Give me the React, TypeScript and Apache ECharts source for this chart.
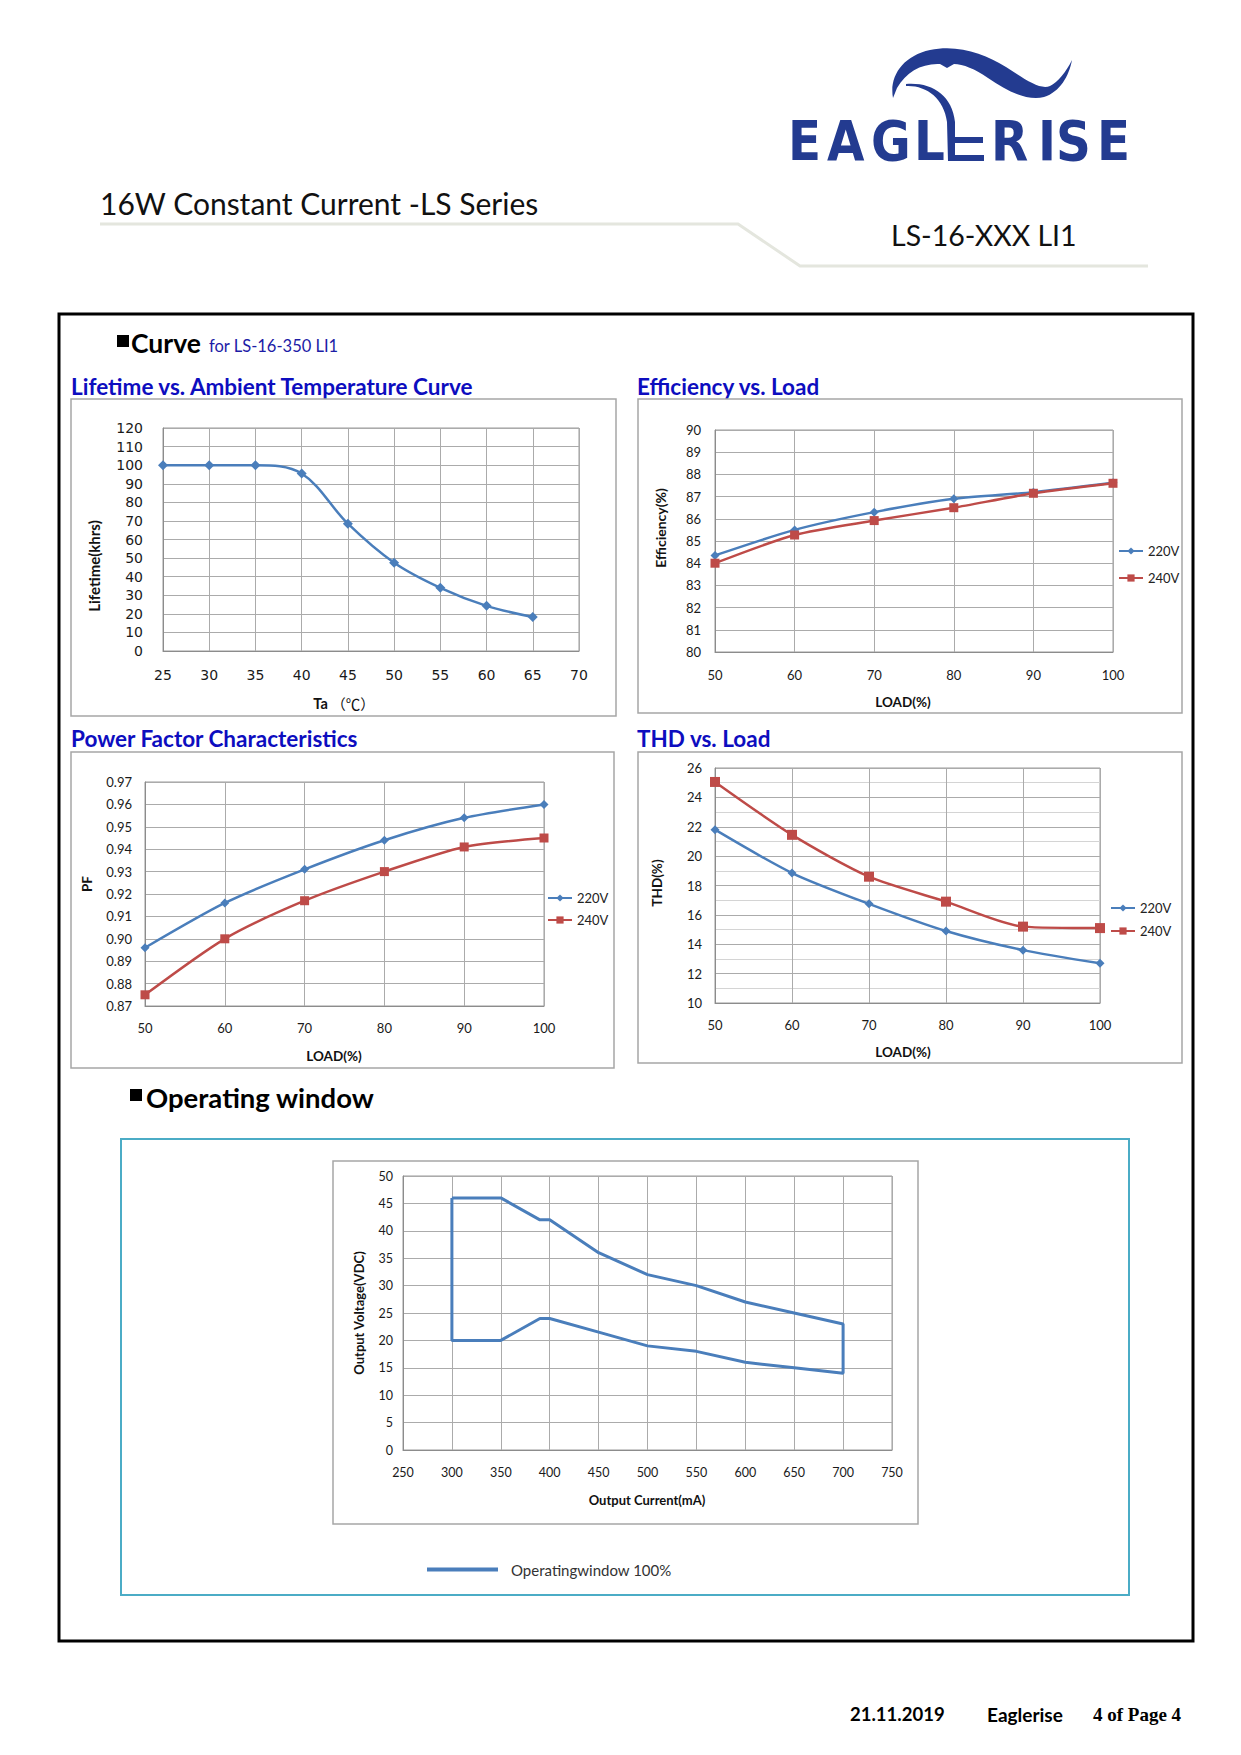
import React, { useEffect, useRef } from "react";
import * as echarts from "echarts";

// ---------- data ----------
const tempX = [25, 30, 35, 40, 45, 50, 55, 60, 65];
const lifetime = [100, 100, 100, 95.5, 68.5, 47.5, 34, 24.3, 18.3];

const loadX = [50, 60, 70, 80, 90, 100];
const eff220 = [84.35, 85.5, 86.3, 86.9, 87.2, 87.62];
const eff240 = [84.0, 85.27, 85.92, 86.5, 87.15, 87.6];

const pf220 = [0.896, 0.916, 0.931, 0.944, 0.954, 0.96];
const pf240 = [0.875, 0.9, 0.917, 0.93, 0.941, 0.945];

const thd220 = [21.8, 18.85, 16.75, 14.9, 13.6, 12.7];
const thd240 = [25.05, 21.45, 18.6, 16.9, 15.2, 15.1];

const owCurrent = [300, 350, 390, 400, 450, 500, 550, 600, 650, 700, 700, 650, 600, 550, 500, 450, 400, 390, 350, 300, 300];
const owVoltage = [46, 46, 42, 42, 36, 32, 30, 27, 25, 23, 14, 15, 16, 18, 19, 21.5, 24, 24, 20, 20, 46];

const seriesNames = ["220V", "240V"];
const owName = "Operatingwindow 100%";

// ---------- styles ----------
const BLUE = "#4a7ebb";
const RED = "#be4b48";
const TITLE_BLUE = "#0d0dbf";
const LOGO_BLUE = "#233b90";
const GRID_C = "#ababab";

const pairs = (xs: number[], ys: number[]) => xs.map((x, i) => [x, ys[i]]);

const EAGLE_D =
  "M 893 98 C 889 76 903 56 930 50 C 958 44 985 54 1006 67 C 1026 80 1040 90 1050 86 C 1058 82 1066 72 1072 60 C 1069 76 1060 92 1044 97 C 1028 101 1008 92 988 78 C 975 69 963 64 954 64 L 947 68 L 940 64 C 922 63 906 72 897 88 Z";
const NECK_D =
  "M 906 86 C 926 85 944 98 947 122 L 948 161 L 955 161 L 955 122 C 952 95 932 82 906 84 Z";

let registered = false;
function registerShapes() {
  if (registered) return;
  registered = true;
  echarts.graphic.registerShape("eagleHead", echarts.graphic.extendPath(EAGLE_D, {}));
  echarts.graphic.registerShape("eagleNeck", echarts.graphic.extendPath(NECK_D, {}));
}

function axisBase(fs: number, fam: string, margin: number) {
  return {
    axisLine: { show: true, lineStyle: { color: "#8c8c8c", width: 1 } },
    axisTick: { show: false },
    splitLine: { show: true, lineStyle: { color: GRID_C, width: 1 } },
    axisLabel: { color: "#1a1a1a", fontSize: fs, fontFamily: fam, margin },
  };
}

function txt(x: number, y: number, text: string, o: any = {}) {
  const { rotation, ...style } = o;
  const el: any = {
    type: "text",
    x,
    y,
    style: {
      text,
      fontFamily: "Lato",
      fontSize: 14,
      fill: "#111",
      align: "left",
      verticalAlign: "middle",
      ...style,
    },
  };
  if (rotation !== undefined) el.rotation = rotation;
  return el;
}

function box(x: number, y: number, w: number, h: number, stroke = "#a6a6a6", lw = 1.5) {
  return { type: "rect", shape: { x, y, width: w, height: h }, style: { fill: "none", stroke, lineWidth: lw } };
}

export default function App() {
  const ref = useRef<HTMLDivElement>(null);

  useEffect(() => {
    document.body.style.margin = "0";
    registerShapes();
    const chart = echarts.init(ref.current!, null, { renderer: "svg" });

    const letters: [string, number][] = [
      ["E", 788],
      ["A", 827],
      ["G", 871],
      ["L", 914],
      ["R", 991],
      ["I", 1038],
      ["S", 1056],
      ["E", 1097],
    ];

    const graphicEls: any[] = [
      // logo
      { type: "eagleHead", x: 0, y: 0, style: { fill: LOGO_BLUE } },
      { type: "eagleNeck", x: 0, y: 0, style: { fill: LOGO_BLUE } },
      { type: "rect", shape: { x: 955, y: 137, width: 28, height: 6 }, style: { fill: LOGO_BLUE } },
      { type: "rect", shape: { x: 955, y: 155, width: 29, height: 6 }, style: { fill: LOGO_BLUE } },
      ...letters.map(([ch, x]) => ({
        type: "text",
        x,
        y: 141,
        scaleX: 0.88,
        style: {
          text: ch,
          fontFamily: "DejaVu Sans",
          fontWeight: "bold",
          fontSize: 55,
          fill: LOGO_BLUE,
          align: "left",
          verticalAlign: "middle",
        },
      })),
      // header
      txt(100, 203, "16W Constant Current -LS Series", { fontSize: 30 }),
      txt(891, 235, "LS-16-XXX LI1", { fontSize: 28.5 }),
      {
        type: "polyline",
        shape: { points: [[100, 224], [738, 224], [800, 266], [1148, 266]] },
        style: { stroke: "#e4e6de", lineWidth: 3, fill: "none" },
      },
      // outer frame
      box(59, 314, 1134, 1327, "#000", 3),
      // curve heading
      { type: "rect", shape: { x: 117, y: 335, width: 12, height: 12 }, style: { fill: "#000" } },
      txt(131, 343, "Curve", { fontSize: 26.5, fontWeight: "bold", fill: "#000" }),
      txt(209, 346, "for LS-16-350 LI1", { fontSize: 16.5, fill: "#1c1ca6" }),
      // chart titles
      txt(71, 386, "Lifetime vs. Ambient Temperature Curve", { fontSize: 22.5, fontWeight: "bold", fill: TITLE_BLUE }),
      txt(637, 386, "Efficiency vs. Load", { fontSize: 22.5, fontWeight: "bold", fill: TITLE_BLUE }),
      txt(71, 738, "Power Factor Characteristics", { fontSize: 22.5, fontWeight: "bold", fill: TITLE_BLUE }),
      txt(637, 738, "THD vs. Load", { fontSize: 22.5, fontWeight: "bold", fill: TITLE_BLUE }),
      // chart boxes
      box(71, 399, 545, 317),
      box(638, 399, 544, 314),
      box(71, 752, 543, 316),
      box(638, 752, 544, 311),
      // axis names chart 1
      txt(94, 566, "Lifetime(khrs)", { fontSize: 15, fontWeight: "bold", align: "center", rotation: Math.PI / 2 }),
      {
        type: "text",
        x: 344,
        y: 703,
        style: {
          text: "{a|Ta} {b|（℃）}",
          align: "center",
          verticalAlign: "middle",
          rich: {
            a: { fontFamily: "Lato", fontWeight: "bold", fontSize: 14.5, fill: "#111" },
            b: { fontFamily: "Noto Sans CJK SC", fontSize: 14.5, fill: "#111" },
          },
        },
      },
      // chart 2
      txt(660, 528, "Efficiency(%)", { fontSize: 14, fontWeight: "bold", align: "center", rotation: Math.PI / 2 }),
      txt(903, 702, "LOAD(%)", { fontSize: 13.5, fontWeight: "bold", align: "center" }),
      // chart 3
      txt(87, 884, "PF", { fontSize: 13.5, fontWeight: "bold", align: "center", rotation: Math.PI / 2 }),
      txt(334, 1056, "LOAD(%)", { fontSize: 13.5, fontWeight: "bold", align: "center" }),
      // chart 4
      txt(657, 883, "THD(%)", { fontSize: 13.5, fontWeight: "bold", align: "center", rotation: Math.PI / 2 }),
      txt(903, 1052, "LOAD(%)", { fontSize: 13.5, fontWeight: "bold", align: "center" }),
      // operating window heading
      { type: "rect", shape: { x: 130, y: 1089, width: 12, height: 12 }, style: { fill: "#000" } },
      txt(146, 1097, "Operating window", { fontSize: 27.5, fontWeight: "bold", fill: "#000" }),
      box(121, 1139, 1008, 456, "#4bacc6", 2),
      box(333, 1161, 585, 363),
      txt(359, 1313, "Output Voltage(VDC)", { fontSize: 13, fontWeight: "bold", align: "center", rotation: Math.PI / 2 }),
      txt(647, 1500, "Output Current(mA)", { fontSize: 13, fontWeight: "bold", align: "center" }),
      // footer
      txt(850, 1714, "21.11.2019", { fontSize: 18.5, fontWeight: "bold", fill: "#000" }),
      txt(987, 1714, "Eaglerise", { fontSize: 19, fontWeight: "bold", fill: "#000" }),
      txt(1093, 1714, "4 of Page 4", { fontSize: 19, fontWeight: "bold", fontFamily: "Liberation Serif", fill: "#000" }),
    ];

    const lineSeries = (name: string, xi: number, data: number[][], color: string, symbol: string, size: number, smooth: number) => ({
      name,
      type: "line",
      xAxisIndex: xi,
      yAxisIndex: xi,
      data,
      smooth,
      symbol,
      symbolSize: size,
      showSymbol: true,
      lineStyle: { color, width: 2.5 },
      itemStyle: { color },
      z: 3,
    });

    const legendBase = (left: number, top: number, gap: number) => ({
      data: seriesNames,
      orient: "vertical",
      left,
      top,
      padding: 0,
      itemGap: gap,
      itemWidth: 24,
      itemHeight: 9,
      textStyle: { fontFamily: "Lato", fontSize: 13, color: "#222", lineHeight: 14 },
      selectedMode: false,
    });

    const option: any = {
      animation: false,
      backgroundColor: "#ffffff",
      grid: [
        { left: 163, top: 428, width: 416, height: 223, show: true, borderColor: "#9a9a9a", borderWidth: 1 },
        { left: 715, top: 430, width: 398, height: 222, show: true, borderColor: "#9a9a9a", borderWidth: 1 },
        { left: 145, top: 782, width: 399, height: 224, show: true, borderColor: "#9a9a9a", borderWidth: 1 },
        { left: 715, top: 768, width: 385, height: 235, show: true, borderColor: "#9a9a9a", borderWidth: 1 },
        { left: 403, top: 1176, width: 489, height: 274, show: true, borderColor: "#9a9a9a", borderWidth: 1 },
      ],
      xAxis: [
        { type: "value", gridIndex: 0, min: 25, max: 70, interval: 5, ...axisBase(14, "DejaVu Sans", 17) },
        { type: "value", gridIndex: 1, min: 50, max: 100, interval: 10, ...axisBase(13, "Lato", 16) },
        { type: "value", gridIndex: 2, min: 50, max: 100, interval: 10, ...axisBase(13, "Lato", 15) },
        { type: "value", gridIndex: 3, min: 50, max: 100, interval: 10, ...axisBase(13, "Lato", 15) },
        { type: "value", gridIndex: 4, min: 250, max: 750, interval: 50, ...axisBase(12.5, "Lato", 16) },
      ],
      yAxis: [
        { type: "value", gridIndex: 0, min: 0, max: 120, interval: 10, ...axisBase(14, "DejaVu Sans", 20) },
        { type: "value", gridIndex: 1, min: 80, max: 90, interval: 1, ...axisBase(13, "Lato", 14) },
        {
          type: "value",
          gridIndex: 2,
          min: 0.87,
          max: 0.97,
          interval: 0.01,
          ...axisBase(13, "Lato", 13),
          axisLabel: { color: "#1a1a1a", fontSize: 13, fontFamily: "Lato", margin: 13, formatter: (v: number) => v.toFixed(2) },
        },
        {
          type: "value",
          gridIndex: 3,
          min: 10,
          max: 26,
          interval: 2,
          ...axisBase(13, "Lato", 13),
          minorTick: { show: false, splitNumber: 2 },
          minorSplitLine: { show: true, lineStyle: { color: "#d4d4d4", width: 1 } },
        },
        { type: "value", gridIndex: 4, min: 0, max: 50, interval: 5, ...axisBase(12.5, "Lato", 10) },
      ],
      legend: [
        legendBase(1118, 544, 13),
        legendBase(547, 891, 8),
        legendBase(1110, 901, 9),
        {
          data: [{ name: owName, icon: "rect" }],
          left: 427,
          top: 1562,
          padding: 0,
          itemWidth: 71,
          itemHeight: 4,
          itemGap: 10,
          itemStyle: { color: BLUE },
          textStyle: { fontFamily: "Lato", fontSize: 15, color: "#333", padding: [0, 0, 0, 8] },
          selectedMode: false,
        },
      ],
      series: [
        lineSeries("Lifetime", 0, pairs(tempX, lifetime), BLUE, "diamond", 10, 0.35),
        lineSeries(seriesNames[0], 1, pairs(loadX, eff220), BLUE, "diamond", 9, 0.25),
        lineSeries(seriesNames[1], 1, pairs(loadX, eff240), RED, "rect", 9, 0.25),
        lineSeries(seriesNames[0], 2, pairs(loadX, pf220), BLUE, "diamond", 9, 0.25),
        lineSeries(seriesNames[1], 2, pairs(loadX, pf240), RED, "rect", 9, 0.25),
        lineSeries(seriesNames[0], 3, pairs(loadX, thd220), BLUE, "diamond", 9, 0.25),
        lineSeries(seriesNames[1], 3, pairs(loadX, thd240), RED, "rect", 10, 0.25),
        {
          name: owName,
          type: "line",
          xAxisIndex: 4,
          yAxisIndex: 4,
          data: pairs(owCurrent, owVoltage),
          symbol: "none",
          lineStyle: { color: BLUE, width: 3 },
          itemStyle: { color: BLUE },
          z: 3,
        },
      ],
      graphic: { elements: graphicEls },
    };

    chart.setOption(option);
    return () => chart.dispose();
  }, []);

  return <div ref={ref} style={{ width: 1241, height: 1755 }} />;
}
